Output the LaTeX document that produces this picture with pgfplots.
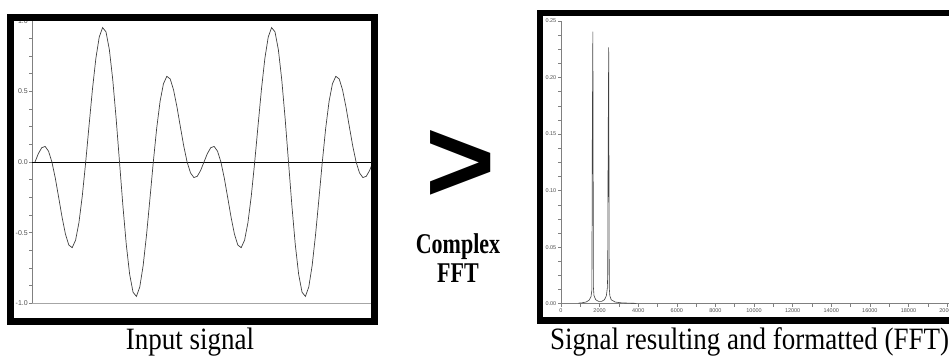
\documentclass[border=0pt]{standalone}
\usepackage{fontspec}
\setmainfont{Liberation Serif}
\newfontfamily\sansf{Liberation Sans}
\usepackage{pgfplots}
\pgfplotsset{compat=1.18}
\definecolor{axgray}{HTML}{808080}
\definecolor{curvegray}{HTML}{404040}
\definecolor{labgray}{HTML}{505050}

\pgfplotstableread{
k s
0 0
1 0.0597
2 0.1014
3 0.1101
4 0.0768
5 0
6 -0.1138
7 -0.2503
8 -0.3897
9 -0.5096
10 -0.5878
11 -0.6063
12 -0.5538
13 -0.4285
14 -0.2381
15 0
16 0.2609
17 0.5151
18 0.7320
19 0.8843
20 0.9511
21 0.9212
22 0.7947
23 0.5832
24 0.3084
25 0
26 -0.3084
27 -0.5832
28 -0.7947
29 -0.9212
30 -0.9511
31 -0.8843
32 -0.7320
33 -0.5151
34 -0.2609
35 0
36 0.2381
37 0.4285
38 0.5538
39 0.6063
40 0.5878
41 0.5096
42 0.3897
43 0.2503
44 0.1138
45 0
46 -0.0768
47 -0.1101
48 -0.1014
49 -0.0597
50 0
51 0.0597
52 0.1014
53 0.1101
54 0.0768
55 0
56 -0.1138
57 -0.2503
58 -0.3897
59 -0.5096
60 -0.5878
61 -0.6063
62 -0.5538
63 -0.4285
64 -0.2381
65 0
66 0.2609
67 0.5151
68 0.7320
69 0.8843
70 0.9511
71 0.9212
72 0.7947
73 0.5832
74 0.3084
75 0
76 -0.3084
77 -0.5832
78 -0.7947
79 -0.9212
80 -0.9511
81 -0.8843
82 -0.7320
83 -0.5151
84 -0.2609
85 0
86 0.2381
87 0.4285
88 0.5538
89 0.6063
90 0.5878
91 0.5096
92 0.3897
93 0.2503
94 0.1138
95 0
96 -0.0768
97 -0.1101
98 -0.1014
99 -0.0597
100 0
}\signaltable

\pgfplotstableread{
f a
900 0.0005
1100 0.0008
1300 0.0015
1450 0.003
1550 0.006
1600 0.012
1620 0.142
1650 0.2405
1680 0.014
1710 0.007
1800 0.0035
1950 0.002
2100 0.002
2250 0.0035
2350 0.007
2400 0.014
2420 0.026
2440 0.135
2470 0.2267
2500 0.014
2530 0.007
2600 0.0035
2800 0.0015
3100 0.0008
3500 0.0005
3900 0.0003
}\ffttable

\begin{document}
\begin{tikzpicture}
\path[use as bounding box] (0pt,0pt) rectangle (949pt,358pt);

% ---------- input signal ----------
\begin{axis}[
  at={(32pt,54.7pt)}, anchor=south west, scale only axis,
  width=341pt, height=282.6pt,
  xmin=-0.89, xmax=100, ymin=-1, ymax=1,
  axis x line*=bottom, axis y line*=left,
  axis line style={-},
  x axis line style={axgray!70},
  y axis line style={axgray},
  xtick=\empty,
  ytick={-1,-0.5,0,0.5,1},
  minor y tick num=3,
  tick align=outside,
  major tick length=3pt, minor tick length=3pt,
  tick style={axgray, line width=0.5pt},
  yticklabel style={font=\sansf\fontsize{7}{8}\selectfont, text=labgray, inner sep=1pt,
    /pgf/number format/.cd, fixed, fixed zerofill, precision=1, assume math mode=true},
]
\addplot[black, line width=0.6pt] coordinates {(-0.89,0) (100,0)};
\addplot[curvegray, line width=0.7pt] table[x=k, y=s] {\signaltable};
\end{axis}

% ---------- FFT ----------
\begin{axis}[
  at={(561pt,54.3pt)}, anchor=south west, scale only axis,
  width=388pt, height=282.7pt,
  xmin=0, xmax=20100, ymin=0, ymax=0.25,
  axis x line*=bottom, axis y line*=left,
  axis line style={-, axgray},
  xtick={0,2000,4000,6000,8000,10000,12000,14000,16000,18000,20000},
  ytick={0,0.05,0.1,0.15,0.2,0.25},
  minor x tick num=1, minor y tick num=3,
  scaled x ticks=false, scaled y ticks=false,
  tick align=outside,
  major tick length=3pt, minor tick length=3pt,
  tick style={axgray, line width=0.5pt},
  xticklabel style={font=\sansf\fontsize{5.5}{6}\selectfont, text=labgray, inner sep=1.5pt,
    /pgf/number format/.cd, 1000 sep={}, assume math mode=true},
  yticklabel style={font=\sansf\fontsize{5.5}{6}\selectfont, text=labgray, inner sep=1.5pt,
    /pgf/number format/.cd, fixed, fixed zerofill, precision=2, assume math mode=true},
]
\addplot[curvegray, line width=0.6pt] table[x=f, y=a] {\ffttable};
\end{axis}

% ---------- frames ----------
\draw[line width=7pt] (10.7pt,36.5pt) rectangle (374.5pt,340.7pt);
\draw[line width=6.5pt] (540.2pt,37.5pt) rectangle (975pt,345pt);

% ---------- texts ----------
\node[anchor=base, inner sep=0] at (190pt,8pt) {\scalebox{1}[1.15]{\fontsize{27}{30}\selectfont Input signal}};
\node[anchor=base west, inner sep=0] at (550pt,8pt) {\scalebox{1}[1.15]{\fontsize{27}{30}\selectfont Signal resulting and formatted (FFT)}};
\node[inner sep=0] at (460.5pt,192pt) {\sansf\bfseries\fontsize{120}{120}\selectfont >};
\node[anchor=base, inner sep=0] at (458pt,104pt) {\scalebox{1}[1.3]{\bfseries\fontsize{22}{24}\selectfont Complex}};
\node[anchor=base, inner sep=0] at (458pt,75pt) {\scalebox{1}[1.3]{\bfseries\fontsize{22}{24}\selectfont FFT}};
\end{tikzpicture}
\end{document}
